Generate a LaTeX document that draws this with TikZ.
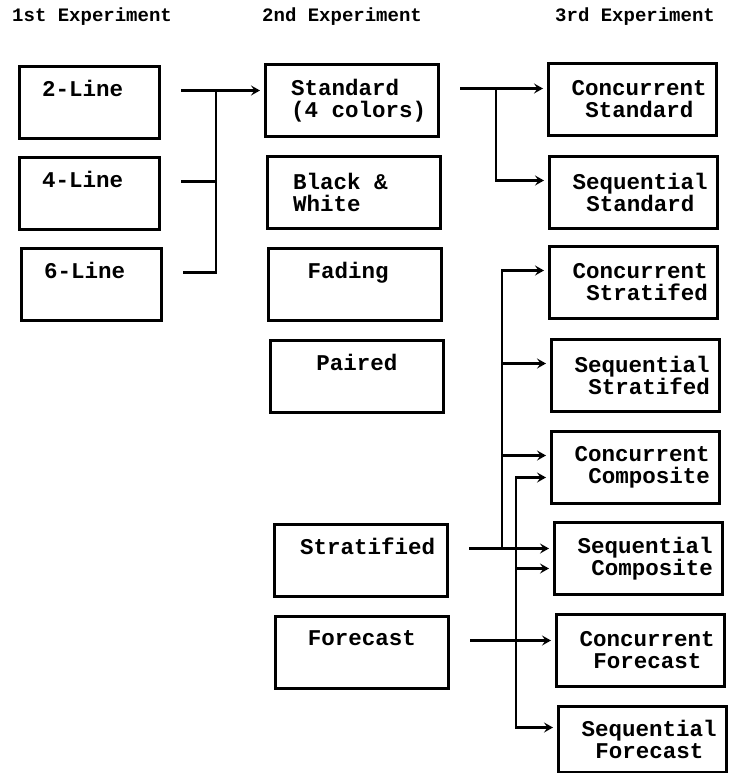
\documentclass[tikz,border=0pt]{standalone}
\usepackage{fontspec}
\setmonofont{Liberation Mono}
\usetikzlibrary{arrows.meta, positioning}
\newcommand{\boxfont}{\ttfamily\bfseries\fontsize{22.5}{22}\selectfont}
\newcommand{\headfont}{\ttfamily\bfseries\fontsize{19}{19}\selectfont}

\begin{document}
\begin{tikzpicture}[x=1pt, y=-1pt,
  expbox/.style={draw, line width=3pt, inner sep=0pt, minimum height=72pt, anchor=north west, align=center, font=\boxfont},
  firstcol/.style={expbox, minimum width=140pt},
  secondcol/.style={expbox, minimum width=173pt},
  thirdcol/.style={expbox, minimum width=168pt, align=left},
  heading/.style={font=\headfont, anchor=west, inner sep=0pt},
  wire/.style={line width=2.6pt},
  link/.style={wire, -{Stealth[length=9pt, width=10pt, inset=3.5pt]}, shorten >=4pt}]
  \useasboundingbox (0,0) rectangle (737,773);

  % Column titles
  \node[heading] (h1) at (12,17) {1st Experiment};
  \node[heading] (h2) at (262,17) {2nd Experiment};
  \node[heading] (h3) at (555,17) {3rd Experiment};

  % 1st experiment
  \node[firstcol] (two) at (18,65) {2-Line\phantom{x}\\\strut};
  \node[firstcol] (four) at (18,156) {4-Line\phantom{x}\\\strut};
  \node[firstcol] (six) at (20,247) {6-Line\phantom{x}\\\strut};

  % 2nd experiment
  \node[secondcol, align=left] (std) at (264,63) {~Standard\\~(4 colors)};
  \node[secondcol, align=left] (bw) at (266,155) {Black \&\phantom{xx}\\White};
  \node[secondcol] (fad) at (267,247) {Fading\phantom{x}\\\strut};
  \node[secondcol] (pair) at (269,339) {Paired\\\strut};
  \node[secondcol] (strat) at (273,523) {~Stratified\\\strut};
  \node[secondcol] (fore) at (274,615) {Forecast\\\strut};

  % 3rd experiment
  \node[thirdcol] (cstd) at (547,62) {~Concurrent\\~~Standard};
  \node[thirdcol] (sstd) at (548,155) {~Sequential\\~~Standard};
  \node[thirdcol] (cstr) at (548,245) {~Concurrent\\~~Stratifed};
  \node[thirdcol] (sstr) at (550,338) {~Sequential\\~~Stratifed};
  \node[thirdcol] (ccmp) at (550,430) {~Concurrent\\~~Composite};
  \node[thirdcol] (scmp) at (553,521) {~Sequential\\~~Composite};
  \node[thirdcol] (cfor) at (555,613) {~Concurrent\\~~Forecast};
  \node[thirdcol, minimum height=66pt] (sfor) at (557,705) {~Sequential\\~~Forecast};

  % 1st -> 2nd
  \coordinate (o2) at ([xshift=20pt,yshift=12pt]two.east);
  \coordinate (o4) at ([xshift=20pt,yshift=12pt]four.east);
  \coordinate (o6) at ([xshift=20pt,yshift=12pt]six.east);
  \coordinate (busA) at ([xshift=55pt]two.east);
  \draw[link] (o2) -- (o2 -| std.west);
  \draw[wire] (o4) -| (busA |- o2);
  \draw[wire] (o6) -| (busA |- o2);

  % Standard -> 3rd
  \coordinate (os) at ([xshift=20pt,yshift=12pt]std.east);
  \coordinate (busB) at ([xshift=56pt]std.east);
  \draw[link] (os) -- (os -| cstd.west);
  \draw[link] (busB |- os) |- ([yshift=12pt]sstd.west);

  % Stratified -> 3rd
  \coordinate (ot) at ([xshift=20pt,yshift=12pt]strat.east);
  \coordinate (busC) at ([xshift=53pt]strat.east);
  \draw[link] (ot) -- (ot -| scmp.west);
  \draw[link] (ot -| busC) |- ([yshift=12pt]cstr.west);
  \draw[link] (ot -| busC) |- ([yshift=12pt]sstr.west);
  \draw[link] (ot -| busC) |- ([yshift=12pt]ccmp.west);

  % Forecast -> 3rd
  \coordinate (of) at ([xshift=20pt,yshift=12pt]fore.east);
  \coordinate (busD) at ([xshift=66pt]fore.east);
  \draw[link] (of) -- (of -| cfor.west);
  \draw[link] (of -| busD) |- ([yshift=-10pt]ccmp.west);
  \draw[link] (of -| busD) |- ([yshift=-10pt]scmp.west);
  \draw[link] (of -| busD) |- ([yshift=12pt]sfor.west);
\end{tikzpicture}
\end{document}
